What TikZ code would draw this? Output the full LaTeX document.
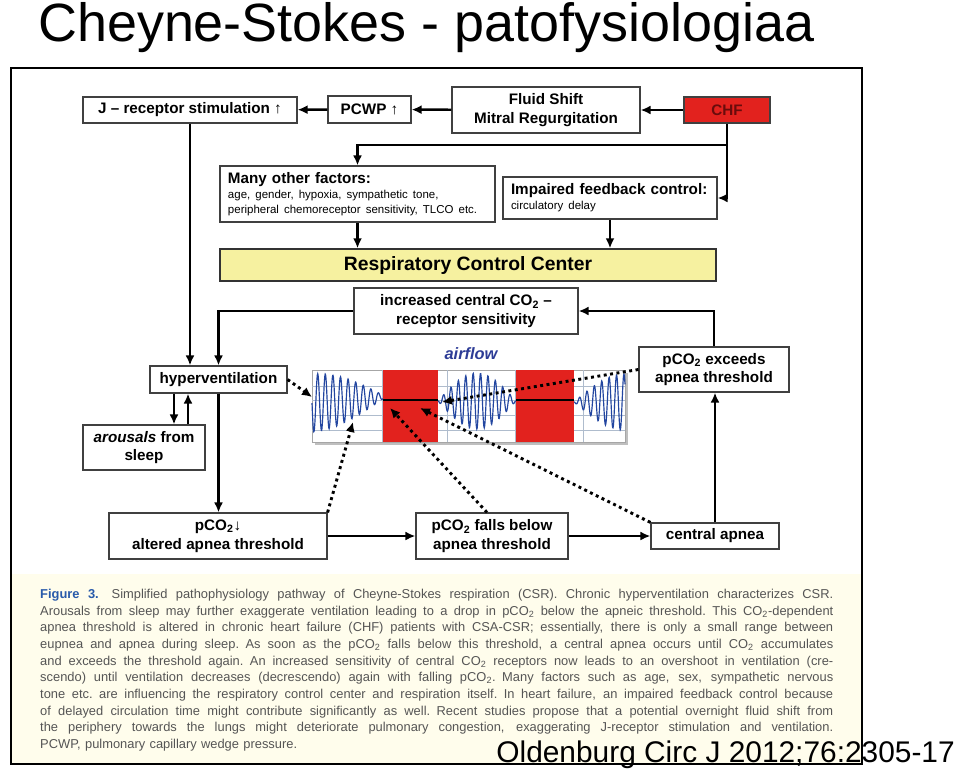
\documentclass[tikz,border=0pt]{standalone}
\usepackage{fontspec}
\setmainfont{Liberation Sans}
\usetikzlibrary{arrows.meta,positioning}

\definecolor{rccyellow}{RGB}{246,241,160}
\definecolor{chfred}{RGB}{226,34,30}
\definecolor{chftext}{RGB}{105,12,12}
\definecolor{flowblue}{RGB}{35,70,160}
\definecolor{labelblue}{RGB}{45,60,150}
\definecolor{capcream}{RGB}{255,253,236}
\definecolor{capgray}{RGB}{85,85,85}
\definecolor{figblue}{RGB}{40,90,170}
\definecolor{gridline}{RGB}{175,188,205}

\newcommand{\subfont}{\mdseries\fontsize{9.8}{12.6}\selectfont}
\newcommand{\capline}[1]{\hbox to 23.79cm{\spaceskip=0.27em plus 1em minus 0.04em\relax #1}}
\newcommand{\ctwo}{CO\textsubscript{2}}

\begin{document}
\begin{tikzpicture}[
  x=0.03cm, y=-0.03cm,
  box/.style={draw=black!75,line width=1pt,fill=white,align=center,inner sep=2pt,
    font=\bfseries\fontsize{13}{16}\selectfont},
  note/.style={box,align=left,inner xsep=0.24cm},
  arr/.style={line width=2.1pt,-{Latex[length=3mm,width=2.7mm]}},
  dots/.style={line width=2.5pt,dash pattern=on 2.5pt off 3pt,-{Latex[length=3mm,width=2.8mm]}},
  trace/.style={flowblue,line width=1pt}
]
  \useasboundingbox (0,0) rectangle (959,771);

  % title and frame
  \node[anchor=base west,inner sep=0,font=\fontsize{46}{50}\selectfont] (title) at (38,41) {Cheyne-Stokes - patofysiologiaa};
  \fill[capcream] (12,574) rectangle (861,763);
  \draw[line width=1.1pt] (11,68) rectangle (862,764);

  % airflow trace
  \fill[black!25] (315,373) rectangle (628,445);
  \node[draw=black!35,fill=white,line width=0.6pt,minimum width=9.39cm,minimum height=2.16cm,inner sep=0] (flow) at (468.5,406) {};
  \foreach \gy in {386,400,415,430}
    \draw[gridline,line width=0.5pt] (312,\gy) -- (625,\gy);
  \foreach \gx in {382,447,515,583}
    \draw[gridline,line width=0.5pt] (\gx,370) -- (\gx,442);
  \fill[chfred] (383,370) rectangle (438,442);
  \fill[chfred] (516,370) rectangle (574,442);
  \draw[line width=1pt] (383,400) -- (438,400);
  \draw[line width=1pt] (516,400) -- (574,400);
  \draw[trace] plot[domain=312:383,samples=200] (\x,{403-6*((\x-312)/71)+29*cos(((\x-312)/74)*90)*sin(((\x-312)/7.6)*360)});
  \draw[trace] plot[domain=438:516,samples=200] (\x,{401+28*sin(((\x-438)/78)*180)*sin(((\x-438)/7.4)*360)});
  \draw[trace] plot[domain=574:625,samples=150] (\x,{402+28*sin(((\x-574)/51)*90)*sin(((\x-574)/7.4)*360)});
  \node[text=labelblue,font=\bfseries\itshape\fontsize{14}{16}\selectfont] (airlbl) at (471,354) {airflow};

  % boxes
  \node[box,minimum width=6.42cm,minimum height=0.78cm] (jrec) at (190,110) {J – receptor stimulation ↑};
  \node[box,minimum width=2.49cm,minimum height=0.81cm] (pcwp) at (369.5,109.5) {PCWP ↑};
  \node[box,minimum width=5.64cm,minimum height=1.38cm] (fluid) at (546,110) {Fluid Shift\\Mitral Regurgitation};
  \node[box,fill=chfred,text=chftext,minimum width=2.58cm,minimum height=0.78cm] (chf) at (727,110) {CHF};
  \node[note,text width=7.77cm,minimum height=1.68cm] (factors) at (357.5,194)
    {Many other factors:\par{\subfont age, gender, hypoxia, sympathetic tone,\\peripheral chemoreceptor sensitivity, TLCO etc.\par}};
  \node[note,text width=5.94cm,minimum height=1.26cm] (impaired) at (610,198)
    {Impaired feedback control:\par{\subfont circulatory delay\par}};
  \node[box,fill=rccyellow,draw=black!80,line width=1.2pt,minimum width=14.88cm,minimum height=0.96cm,
    font=\bfseries\fontsize{16.5}{19}\selectfont] (rcc) at (468,265) {Respiratory Control Center};
  \node[box,minimum width=6.72cm,minimum height=1.38cm] (central) at (466,311) {increased central \ctwo{} –\\receptor sensitivity};
  \node[box,minimum width=4.5cm,minimum height=1.35cm] (exceeds) at (714,369.5) {p\ctwo{} exceeds\\apnea threshold};
  \node[box,minimum width=4.11cm,minimum height=0.81cm] (hyper) at (218.5,379.5) {hyperventilation};
  \node[box,minimum width=3.66cm,minimum height=1.35cm] (arousals) at (144,447.5) {\textit{arousals} from\\sleep};
  \node[box,minimum width=6.54cm,minimum height=1.38cm] (pdown) at (218,536) {p\ctwo ↓\\altered apnea threshold};
  \node[box,minimum width=4.56cm,minimum height=1.38cm] (falls) at (492,536) {p\ctwo{} falls below\\apnea threshold};
  \node[box,minimum width=3.84cm,minimum height=0.78cm] (apnea) at (715,536) {central apnea};

  % solid connectors
  \coordinate (split) at (727,145);
  \coordinate (hd) at ([xshift=-1.335cm]hyper.south);
  \coordinate (hu) at ([xshift=-0.915cm]hyper.south);
  \draw[arr] (pcwp) -- (jrec);
  \draw[arr] (fluid) -- (pcwp);
  \draw[arr] (chf) -- (fluid);
  \draw[arr] (chf.south) |- (impaired.east);
  \draw[arr] (split) -| (factors.north);
  \draw[arr] (factors.south) -- (factors.south |- rcc.north);
  \draw[arr] (impaired.south) -- (impaired.south |- rcc.north);
  \draw[arr] (jrec.south) -- (jrec.south |- hyper.north);
  \draw[arr] (central.west) -| (hyper.north);
  \draw[arr] (exceeds.north) |- (central.east);
  \draw[arr] (apnea.north) -- (apnea.north |- exceeds.south);
  \draw[arr] (falls) -- (apnea);
  \draw[arr] (pdown) -- (falls);
  \draw[arr] (hyper.south) -- (hyper.south |- pdown.north);
  \draw[arr] (hd) -- (hd |- arousals.north);
  \draw[arr] (hu |- arousals.north) -- (hu);

  % dotted connectors into the trace
  \coordinate (inHyp) at (312,397);
  \coordinate (inDrop) at (353,422);
  \coordinate (inFall) at (390,408);
  \coordinate (inApnea) at (420,408);
  \coordinate (inExceed) at (442,402);
  \draw[dots] (hyper.east) -- (inHyp);
  \draw[dots] (pdown.north east) -- (inDrop);
  \draw[dots] ([xshift=-0.15cm]falls.north) -- (inFall);
  \draw[dots] (apnea.north west) -- (inApnea);
  \draw[dots] (exceeds.west) -- (inExceed);

  % caption
  \node[anchor=north west,inner sep=0,text width=23.79cm,text=capgray,font=\fontsize{11}{14.2}\selectfont] (caption) at (40,589) {%
    \capline{{\color{figblue}\bfseries Figure 3.}\quad Simplified pathophysiology pathway of Cheyne-Stokes respiration (CSR). Chronic hyperventilation characterizes CSR.}
    \capline{Arousals from sleep may further exaggerate ventilation leading to a drop in p\ctwo{} below the apneic threshold. This \ctwo-dependent}
    \capline{apnea threshold is altered in chronic heart failure (CHF) patients with CSA-CSR; essentially, there is only a small range between}
    \capline{eupnea and apnea during sleep. As soon as the p\ctwo{} falls below this threshold, a central apnea occurs until \ctwo{} accumulates}
    \capline{and exceeds the threshold again. An increased sensitivity of central \ctwo{} receptors now leads to an overshoot in ventilation (cre-}
    \capline{scendo) until ventilation decreases (decrescendo) again with falling p\ctwo. Many factors such as age, sex, sympathetic nervous}
    \capline{tone etc. are influencing the respiratory control center and respiration itself. In heart failure, an impaired feedback control because}
    \capline{of delayed circulation time might contribute significantly as well. Recent studies propose that a potential overnight fluid shift from}
    \capline{the periphery towards the lungs might deteriorate pulmonary congestion, exaggerating J-receptor stimulation and ventilation.}
    \hbox{PCWP, pulmonary capillary wedge pressure.}};
  \node[anchor=base east,inner sep=0,font=\fontsize{25.5}{28}\selectfont] (cite) at (955,762) {Oldenburg Circ J 2012;76:2305-17};
\end{tikzpicture}
\end{document}
